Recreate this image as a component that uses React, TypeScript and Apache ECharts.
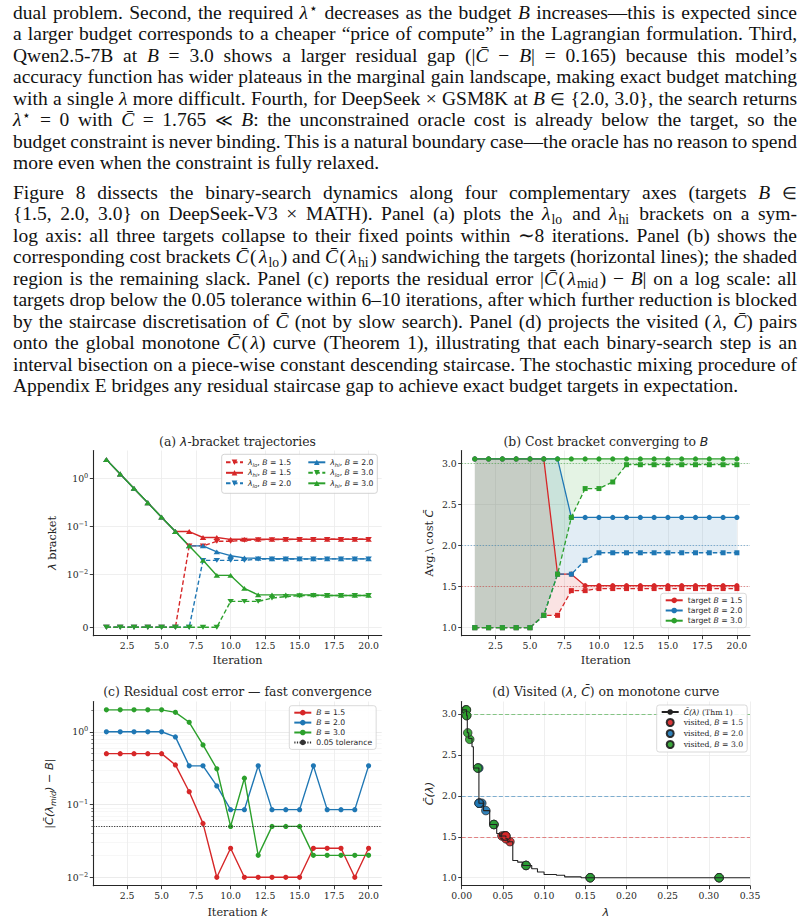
import React, { useEffect, useRef } from 'react';
import * as echarts from 'echarts';

// ---------------- data ----------------
const iterations = [1, 2, 3, 4, 5, 6, 7, 8, 9, 10, 11, 12, 13, 14, 15, 16, 17, 18, 19, 20];
const budgetLabels = ['1.5', '2.0', '3.0'];
const targets = [1.5, 2.0, 3.0];

// (a) lambda brackets
const lamLo15 = [0, 0, 0, 0, 0, 0, 0.0391, 0.0391, 0.0488, 0.0488, 0.0513, 0.0525, 0.0531, 0.0534, 0.0535, 0.0536, 0.0537, 0.0537, 0.0537, 0.0537];
const lamHi15 = [2.5, 1.25, 0.625, 0.3125, 0.156, 0.0781, 0.0781, 0.0586, 0.0586, 0.0537, 0.0537, 0.0537, 0.0537, 0.0537, 0.0537, 0.0537, 0.0537, 0.0537, 0.0537, 0.0537];
const lamLo20 = [0, 0, 0, 0, 0, 0, 0, 0.0195, 0.0195, 0.0195, 0.0195, 0.0208, 0.0208, 0.0208, 0.0208, 0.0208, 0.0209, 0.0209, 0.0209, 0.0209];
const lamHi20 = [2.5, 1.25, 0.625, 0.3125, 0.156, 0.0781, 0.0391, 0.0391, 0.0293, 0.0244, 0.022, 0.0214, 0.0211, 0.021, 0.0209, 0.0209, 0.0209, 0.0209, 0.0209, 0.0209];
const lamLo30 = [0, 0, 0, 0, 0, 0, 0, 0, 0, 0.00488, 0.00488, 0.00488, 0.00549, 0.0058, 0.00595, 0.006, 0.006, 0.006, 0.006, 0.006];
const lamHi30 = [2.5, 1.25, 0.625, 0.3125, 0.156, 0.0781, 0.0391, 0.0195, 0.00977, 0.00977, 0.00732, 0.0061, 0.0061, 0.0061, 0.0061, 0.0061, 0.006, 0.006, 0.006, 0.006];

// (b) cost brackets
const costLo15 = [3.05, 3.05, 3.05, 3.05, 3.05, 3.05, 1.65, 1.65, 1.51, 1.51, 1.51, 1.51, 1.51, 1.51, 1.51, 1.51, 1.51, 1.51, 1.51, 1.51];
const costHi15 = [1.0, 1.0, 1.0, 1.0, 1.0, 1.15, 1.15, 1.45, 1.45, 1.475, 1.475, 1.475, 1.475, 1.475, 1.475, 1.475, 1.475, 1.475, 1.475, 1.475];
const costLo20 = [3.05, 3.05, 3.05, 3.05, 3.05, 3.05, 3.05, 2.34, 2.34, 2.34, 2.34, 2.34, 2.34, 2.34, 2.34, 2.34, 2.34, 2.34, 2.34, 2.34];
const costHi20 = [1.0, 1.0, 1.0, 1.0, 1.0, 1.15, 1.65, 1.65, 1.82, 1.91, 1.91, 1.91, 1.91, 1.91, 1.91, 1.91, 1.91, 1.91, 1.91, 1.91];
const costLo30 = [3.05, 3.05, 3.05, 3.05, 3.05, 3.05, 3.05, 3.05, 3.05, 3.05, 3.05, 3.05, 3.05, 3.05, 3.05, 3.05, 3.05, 3.05, 3.05, 3.05];
const costHi30 = [1.0, 1.0, 1.0, 1.0, 1.0, 1.15, 1.65, 2.34, 2.69, 2.69, 2.77, 2.98, 2.98, 2.98, 2.98, 2.98, 2.98, 2.98, 2.98, 2.98];

// (c) residuals
const res15 = [0.5, 0.5, 0.5, 0.5, 0.5, 0.35, 0.15, 0.055, 0.01, 0.025, 0.01, 0.01, 0.01, 0.01, 0.01, 0.025, 0.025, 0.025, 0.01, 0.025];
const res20 = [1.0, 1.0, 1.0, 1.0, 1.0, 0.85, 0.34, 0.34, 0.18, 0.085, 0.085, 0.34, 0.085, 0.085, 0.085, 0.34, 0.085, 0.085, 0.085, 0.34];
const res30 = [2.0, 2.0, 2.0, 2.0, 2.0, 1.85, 1.35, 0.66, 0.31, 0.05, 0.23, 0.02, 0.05, 0.05, 0.05, 0.02, 0.02, 0.02, 0.02, 0.02];
const tolerance = 0.05;

// (d) monotone curve + visited points
const lamCurve = [0, 0.0059, 0.0068, 0.0085, 0.0125, 0.0142, 0.0209, 0.0265, 0.034, 0.0425, 0.046, 0.0537, 0.056, 0.062, 0.068, 0.074, 0.085, 0.092, 0.1, 0.115, 0.125, 0.145, 0.35];
const costCurve = [3.05, 2.98, 2.77, 2.7, 2.6, 2.34, 1.91, 1.82, 1.65, 1.54, 1.51, 1.475, 1.44, 1.21, 1.19, 1.15, 1.11, 1.07, 1.04, 1.03, 1.01, 1.0, 1.0];
const visLam15 = [0.3125, 0.156, 0.0781, 0.0391, 0.0586, 0.0488, 0.0537, 0.0513, 0.0525, 0.0531, 0.0534, 0.0535, 0.0536];
const visC15 = [1.0, 1.0, 1.15, 1.65, 1.44, 1.51, 1.475, 1.51, 1.51, 1.51, 1.51, 1.51, 1.51];
const visLam20 = [0.3125, 0.156, 0.0781, 0.0391, 0.0195, 0.0293, 0.0244, 0.022, 0.0208, 0.0214, 0.0211, 0.021];
const visC20 = [1.0, 1.0, 1.15, 1.65, 2.34, 1.82, 1.91, 1.91, 2.34, 1.91, 1.91, 1.91];
const visLam30 = [0.3125, 0.156, 0.0781, 0.0391, 0.0195, 0.00977, 0.00488, 0.00732, 0.0061, 0.00549, 0.0058, 0.00595];
const visC30 = [1.0, 1.0, 1.15, 1.65, 2.34, 2.69, 3.05, 2.77, 2.98, 3.05, 3.05, 2.98];

// tick values / labels
const xTickVals = [2.5, 5.0, 7.5, 10.0, 12.5, 15.0, 17.5, 20.0];
const costTickVals = [1.0, 1.5, 2.0, 2.5, 3.0];
const lamTickVals = [0, 0.05, 0.1, 0.15, 0.2, 0.25, 0.3, 0.35];
const aTickVals = [0, 0.01, 0.1, 1];
const aTickLabels = ['0', '10{sup|−2}', '10{sup|−1}', '10{sup|0}'];
const cTickVals = [0.01, 0.1, 1];
const cTickLabels = ['10{sup|−2}', '10{sup|−1}', '10{sup|0}'];
const cMinorVals = [0.02, 0.03, 0.04, 0.05, 0.06, 0.07, 0.08, 0.09, 0.2, 0.3, 0.4, 0.5, 0.6, 0.7, 0.8, 0.9, 2];

// text
const para1 = [
  'dual problem. Second, the required <i>λ</i><span class="sp">⋆</span> decreases as the budget <i>B</i> increases—this is expected since',
  'a larger budget corresponds to a cheaper “price of compute” in the Lagrangian formulation. Third,',
  'Qwen2.5-7B at <i>B</i> = 3.0 shows a larger residual gap (|<i>C̄</i> − <i>B</i>| = 0.165) because this model’s',
  'accuracy function has wider plateaus in the marginal gain landscape, making exact budget matching',
  'with a single <i>λ</i> more difficult. Fourth, for DeepSeek × GSM8K at <i>B</i> <span class="op">∈</span> {2.0, 3.0}, the search returns',
  '<i>λ</i><span class="sp">⋆</span> = 0 with <i>C̄</i> = 1.765 <span class="op">≪</span> <i>B</i>: the unconstrained oracle cost is already below the target, so the',
  'budget constraint is never binding. This is a natural boundary case—the oracle has no reason to spend',
  'more even when the constraint is fully relaxed.',
];
const para2 = [
  'Figure 8 dissects the binary-search dynamics along four complementary axes (targets <i>B</i> <span class="op">∈</span>',
  '{1.5, 2.0, 3.0} on DeepSeek-V3 × MATH). Panel (a) plots the <i>λ</i><span class="sb">lo</span> and <i>λ</i><span class="sb">hi</span> brackets on a sym-',
  'log axis: all three targets collapse to their fixed points within ∼8 iterations. Panel (b) shows the',
  'corresponding cost brackets <i class="cb">C̄</i>(<i class="ml">λ</i><span class="sb">lo</span>) and <i class="cb">C̄</i>(<i class="ml">λ</i><span class="sb">hi</span>) sandwiching the targets (horizontal lines); the shaded',
  'region is the remaining slack. Panel (c) reports the residual error |<i class="cb">C̄</i>(<i class="ml">λ</i><span class="sb">mid</span>) − <i>B</i>| on a log scale: all',
  'targets drop below the 0.05 tolerance within 6–10 iterations, after which further reduction is blocked',
  'by the staircase discretisation of <i>C̄</i> (not by slow search). Panel (d) projects the visited (<i class="ml">λ</i>, <i>C̄</i>) pairs',
  'onto the global monotone <i class="cb">C̄</i>(<i class="ml">λ</i>) curve (Theorem 1), illustrating that each binary-search step is an',
  'interval bisection on a piece-wise constant descending staircase. The stochastic mixing procedure of',
  'Appendix E bridges any residual staircase gap to achieve exact budget targets in expectation.',
];

// ---------------- styling ----------------
const COLORS = ['#d62728', '#1f77b4', '#2ca02c'];
const FILLS = ['rgba(214,39,40,0.13)', 'rgba(31,119,180,0.13)', 'rgba(44,160,44,0.13)'];
const SERIF = "'DejaVu Serif', serif";
const SANS = "'DejaVu Sans', sans-serif";
const INK = '#262626';
const GRIDC = '#ebebeb';
const UP_TRI = 'path://M5,0 L10,8.66 L0,8.66 Z';
const DOWN_TRI = 'path://M0,0 L10,0 L5,8.66 Z';

const LINTHRESH = 0.01;
const LINSCALE_ADJ = 1 / (1 - 1 / 10);
const symlog = (v: number) =>
  Math.abs(v) <= LINTHRESH
    ? (v / LINTHRESH) * LINSCALE_ADJ
    : Math.sign(v) * (LINSCALE_ADJ + Math.log10(Math.abs(v) / LINTHRESH));

const nearestLabel = (vals: number[], labels: string[], v: number) => {
  let best = 0;
  vals.forEach((t, i) => {
    if (Math.abs(t - v) < Math.abs(vals[best] - v)) best = i;
  });
  return labels[best];
};

function mkRich(base: string, size: number) {
  return {
    n: { fontFamily: base, fontSize: size, color: INK, lineHeight: size * 1.3 },
    i: { fontFamily: SANS, fontStyle: 'italic', fontSize: size, color: INK, lineHeight: size * 1.3 },
    sub: { fontFamily: SANS, fontStyle: 'italic', fontSize: size * 0.7, color: INK, lineHeight: size * 0.75, verticalAlign: 'bottom' },
  };
}

const richLabel = (name: string) => {
  let m = name.match(/^λ(lo|hi), B = (.+)$/);
  if (m) return `{i|λ}{sub|${m[1]}}{n|, }{i|B}{n| = ${m[2]}}`;
  m = name.match(/^target B = (.+)$/);
  if (m) return `{n|target }{i|B}{n| = ${m[1]}}`;
  m = name.match(/^visited, B = (.+)$/);
  if (m) return `{n|visited, }{i|B}{n| = ${m[1]}}`;
  m = name.match(/^B = (.+)$/);
  if (m) return `{i|B}{n| = ${m[1]}}`;
  if (name.indexOf('(Thm 1)') >= 0) return `{i|C̄(λ)}{n| (Thm 1)}`;
  return `{n|${name}}`;
};

const axisLineStyle = { show: true, onZero: false, lineStyle: { color: INK, width: 1.1 } };
const tickStyle = (vals: number[], len = 3.5) => ({ show: true, length: len, lineStyle: { color: INK, width: 0.9 }, customValues: vals });
const labelStyle = (vals: number[], formatter: (v: number) => string) => ({
  show: true, customValues: vals, formatter, fontFamily: SERIF, fontSize: 9.3, color: INK, margin: 5,
});
const supRich = {
  sup: { fontFamily: SERIF, fontSize: 6.6, color: INK, lineHeight: 8, verticalAlign: 'top' },
};
const splitStyle = { show: true, lineStyle: { color: GRIDC, width: 0.8 } };
const nameStyle = { fontFamily: SERIF, fontSize: 11.3, color: INK, rich: mkRich(SERIF, 11.3) };

const xIter = (gridIndex: number, name: string) => ({
  type: 'value', gridIndex, min: 0.05, max: 20.95,
  name, nameLocation: 'middle', nameGap: 19, nameTextStyle: nameStyle,
  axisLine: axisLineStyle, axisTick: tickStyle(xTickVals),
  axisLabel: labelStyle(xTickVals, (v: number) => v.toFixed(1)),
  splitLine: splitStyle,
});

function buildOption() {
  const lamLo = [lamLo15, lamLo20, lamLo30];
  const lamHi = [lamHi15, lamHi20, lamHi30];
  const costLo = [costLo15, costLo20, costLo30];
  const costHi = [costHi15, costHi20, costHi30];
  const res = [res15, res20, res30];
  const visLam = [visLam15, visLam20, visLam30];
  const visC = [visC15, visC20, visC30];

  const series: any[] = [];

  // (a)
  const aNames: string[] = [];
  COLORS.forEach((color, k) => {
    const lb = budgetLabels[k];
    const nLo = `λlo, B = ${lb}`;
    const nHi = `λhi, B = ${lb}`;
    aNames.push(nLo, nHi);
    series.push({
      name: nLo, type: 'line', xAxisIndex: 0, yAxisIndex: 0,
      data: iterations.map((it, i) => [it, symlog(lamLo[k][i])]),
      symbol: DOWN_TRI, symbolSize: [6.5, 5.6], symbolKeepAspect: true,
      lineStyle: { color, width: 1.4, type: [4.5, 2.5] }, itemStyle: { color },
    });
    series.push({
      name: nHi, type: 'line', xAxisIndex: 0, yAxisIndex: 0,
      data: iterations.map((it, i) => [it, symlog(lamHi[k][i])]),
      symbol: UP_TRI, symbolSize: [6.5, 5.6], symbolKeepAspect: true,
      lineStyle: { color, width: 1.4 }, itemStyle: { color },
    });
  });

  // (b) shaded slack between the two cost brackets
  COLORS.forEach((color, k) => {
    series.push({
      name: `slack${k}`, type: 'custom', xAxisIndex: 1, yAxisIndex: 1, silent: true, clip: true, z: 1,
      data: [[iterations[0], costHi[k][0]]],
      renderItem: (_params: any, api: any) => {
        const upper = iterations.map((it, i) => api.coord([it, costLo[k][i]]));
        const lower = iterations.map((it, i) => api.coord([it, costHi[k][i]])).reverse();
        return { type: 'polygon', shape: { points: upper.concat(lower) }, style: { fill: FILLS[k], stroke: 'none' } };
      },
    });
  });
  const bNames: string[] = [];
  COLORS.forEach((color, k) => {
    const nm = `target B = ${budgetLabels[k]}`;
    bNames.push(nm);
    series.push({
      name: nm, type: 'line', xAxisIndex: 1, yAxisIndex: 1,
      data: iterations.map((it, i) => [it, costLo[k][i]]),
      symbol: 'circle', symbolSize: 5.2,
      lineStyle: { color, width: 1.3 }, itemStyle: { color },
      markLine: {
        silent: true, symbol: 'none', label: { show: false },
        lineStyle: { color, width: 1, type: [1.2, 1.8], opacity: 0.55 },
        data: [{ yAxis: targets[k] }],
      },
    });
    series.push({
      name: `C(λhi), B = ${budgetLabels[k]}`, type: 'line', xAxisIndex: 1, yAxisIndex: 1,
      data: iterations.map((it, i) => [it, costHi[k][i]]),
      symbol: 'rect', symbolSize: 5,
      lineStyle: { color, width: 1.3, type: [4.5, 2.5] }, itemStyle: { color },
    });
  });

  // (c)
  const cNames: string[] = [];
  COLORS.forEach((color, k) => {
    const nm = `B = ${budgetLabels[k]}`;
    cNames.push(nm);
    series.push({
      name: nm, type: 'line', xAxisIndex: 2, yAxisIndex: 2,
      data: iterations.map((it, i) => [it, Math.log10(res[k][i])]),
      symbol: 'circle', symbolSize: 5.2,
      lineStyle: { color, width: 1.4 }, itemStyle: { color },
    });
  });
  cNames.push('0.05 tolerance');
  series.push({
    name: '0.05 tolerance', type: 'line', xAxisIndex: 2, yAxisIndex: 2, data: [],
    symbol: 'none', lineStyle: { color: '#333', width: 1, type: [1.2, 1.4] }, itemStyle: { color: '#333' },
    markLine: {
      silent: true, symbol: 'none', label: { show: false },
      lineStyle: { color: '#333', width: 1, type: [1.2, 1.4] },
      data: [{ yAxis: Math.log10(tolerance) }],
    },
  });

  // (d)
  const dNames: string[] = ['C̄(λ) (Thm 1)'];
  series.push({
    name: 'C̄(λ) (Thm 1)', type: 'line', xAxisIndex: 3, yAxisIndex: 4, step: 'end',
    data: lamCurve.map((l, i) => [l, costCurve[i]]),
    symbol: 'none', lineStyle: { color: '#222', width: 1.1 }, itemStyle: { color: '#222' },
    markLine: {
      silent: true, symbol: 'none', label: { show: false },
      data: targets.map((t, k) => ({ yAxis: t, lineStyle: { color: COLORS[k], width: 1, type: [4, 2.2], opacity: 0.55 } })),
    },
  });
  COLORS.forEach((color, k) => {
    const nm = `visited, B = ${budgetLabels[k]}`;
    dNames.push(nm);
    series.push({
      name: nm, type: 'scatter', xAxisIndex: 3, yAxisIndex: 4,
      data: visLam[k].map((l, i) => [l, visC[k][i]]),
      symbol: 'circle', symbolSize: 8.5,
      itemStyle: { color, borderColor: '#222', borderWidth: 0.8, opacity: 0.92 },
    });
  });

  const legendCommon = (base: string) => ({
    orient: 'vertical', itemWidth: 17, itemHeight: 7, selectedMode: false,
    textStyle: { fontFamily: base, fontSize: 7.7, color: INK, rich: mkRich(base, 7.7) },
    formatter: richLabel, z: 20,
  });
  const boxed = {
    backgroundColor: 'rgba(255,255,255,0.85)', borderColor: '#cfcfcf', borderWidth: 0.8, borderRadius: 2.5,
  };

  const costY = (gridIndex: number, name: string, nameGap: number) => ({
    type: 'value', gridIndex, min: 0.9025, max: 3.1525,
    name, nameLocation: 'middle', nameGap, nameTextStyle: nameStyle,
    axisLine: axisLineStyle, axisTick: tickStyle(costTickVals),
    axisLabel: labelStyle(costTickVals, (v: number) => v.toFixed(1)),
    splitLine: splitStyle,
  });

  const aTickT = aTickVals.map(symlog);
  const cTickT = cTickVals.map((v) => Math.log10(v));
  const cMinorT = cMinorVals.map((v) => Math.log10(v));

  const titleText = (x: number, y: number, text: string) => ({
    type: 'text', x, y, z: 30, silent: true,
    style: { text, rich: mkRich(SERIF, 12.4), fontFamily: SERIF, fontSize: 12.4, fill: INK, align: 'center', verticalAlign: 'middle' },
  });

  return {
    animation: false,
    backgroundColor: '#ffffff',
    grid: [
      { left: 93.3, top: 30.5, width: 288.4, height: 185.2 },
      { left: 461.7, top: 30.5, width: 288.3, height: 185.2 },
      { left: 93.3, top: 281.5, width: 288.4, height: 184.2 },
      { left: 461.7, top: 281.5, width: 288.3, height: 184.2 },
    ],
    xAxis: [
      xIter(0, 'Iteration'),
      xIter(1, 'Iteration'),
      xIter(2, '{n|Iteration }{i|k}'),
      {
        type: 'value', gridIndex: 3, min: 0, max: 0.35,
        name: '{i|λ}', nameLocation: 'middle', nameGap: 19, nameTextStyle: nameStyle,
        axisLine: axisLineStyle, axisTick: tickStyle(lamTickVals),
        axisLabel: labelStyle(lamTickVals, (v: number) => v.toFixed(2)),
        splitLine: splitStyle,
      },
    ],
    yAxis: [
      {
        type: 'value', gridIndex: 0, min: -0.176, max: 3.7,
        name: '{i|λ}{n| bracket}', nameLocation: 'middle', nameGap: 33, nameTextStyle: nameStyle,
        axisLine: axisLineStyle, axisTick: tickStyle(aTickT),
        axisLabel: { ...labelStyle(aTickT, (v: number) => nearestLabel(aTickT, aTickLabels, v)), rich: supRich, lineHeight: 12 },
        splitLine: splitStyle,
      },
      costY(1, '{n|Avg.\\ cost }{i|C̄}', 25),
      {
        type: 'value', gridIndex: 2, min: -2.116, max: 0.416, position: 'left',
        name: '{i||C̄(λ}{sub|mid}{i|) − B|}', nameLocation: 'middle', nameGap: 36, nameTextStyle: nameStyle,
        axisLine: axisLineStyle, axisTick: tickStyle(cTickT),
        axisLabel: { ...labelStyle(cTickT, (v: number) => nearestLabel(cTickT, cTickLabels, v)), rich: supRich, lineHeight: 12 },
        splitLine: { show: true, lineStyle: { color: '#e6e6e6', width: 0.8 } },
        z: 3,
      },
      {
        type: 'value', gridIndex: 2, min: -2.116, max: 0.416, position: 'left',
        axisLine: { show: false, onZero: false },
        axisTick: { show: true, length: 2, lineStyle: { color: INK, width: 0.6 }, customValues: cMinorT },
        axisLabel: { show: false, customValues: cMinorT },
        splitLine: { show: true, lineStyle: { color: '#f2f2f2', width: 0.6 } },
      },
      costY(3, '{i|C̄(λ)}', 25),
    ],
    legend: [
      { ...legendCommon(SANS), data: aNames.slice(0, 3), left: 225, top: 38.3, padding: 0, itemGap: 1.5 },
      { ...legendCommon(SANS), data: aNames.slice(3, 6), left: 307.3, top: 38.3, padding: 0, itemGap: 1.5 },
      { ...legendCommon(SANS), ...boxed, data: bNames, left: 660.7, top: 173.3, padding: [3, 4, 3, 4], itemGap: 2.2 },
      { ...legendCommon(SANS), ...boxed, data: cNames, left: 289.3, top: 285.7, padding: [3, 4, 3, 4], itemGap: 1.9 },
      { ...legendCommon(SERIF), ...boxed, data: dNames, left: 656.7, top: 285, padding: [3, 4, 3, 4], itemGap: 2.0 },
    ],
    graphic: [
      {
        type: 'rect', z: 3, silent: true,
        shape: { x: 221.7, y: 34.3, width: 155.6, height: 39, r: 2.5 },
        style: { fill: 'rgba(255,255,255,0.85)', stroke: '#c8c8c8', lineWidth: 0.8 },
      },
      titleText(237.5, 21, '{n|(a) }{i|λ}{n|-bracket trajectories}'),
      titleText(605.9, 21, '{n|(b) Cost bracket converging to }{i|B}'),
      titleText(237.5, 271, '{n|(c) Residual cost error — fast convergence}'),
      titleText(605.9, 271, '{n|(d) Visited (}{i|λ}{n|, }{i|C̄}{n|) on monotone curve}'),
    ],
    series,
  };
}

const lineStyle = (baseline: number, last: boolean): React.CSSProperties => ({
  position: 'absolute',
  left: 13,
  width: 784,
  top: baseline - 17.3,
  height: 21.5,
  fontFamily: "'Liberation Serif', 'Times New Roman', serif",
  fontSize: 19.5,
  lineHeight: '21.5px',
  color: '#111',
  textAlign: last ? 'left' : 'justify',
  textAlignLast: last ? 'left' : 'justify',
  wordSpacing: last ? 0 : -3,
  whiteSpace: 'normal',
});

export default function App() {
  const ref = useRef<HTMLDivElement>(null);
  useEffect(() => {
    if (!ref.current) return;
    const chart = echarts.init(ref.current, null, { renderer: 'svg' });
    chart.setOption(buildOption() as any);
    return () => chart.dispose();
  }, []);
  return (
    <div style={{ position: 'absolute', left: 0, top: 0, width: 808, height: 921, background: '#fff', overflow: 'hidden' }}>
      <style>{`.sp{font-size:0.7em;vertical-align:0.45em;line-height:0;margin-left:1px}.sb{font-size:0.7em;vertical-align:-0.25em;line-height:0;margin:0 1.5px 0 1px}.op{font-size:0.85em}.cb{margin-right:1.5px}.ml{margin-left:2.5px}`}</style>
      {para1.map((html, i) => (
        <div key={'p1' + i} style={lineStyle(19 + 21.5 * i, i === para1.length - 1)} dangerouslySetInnerHTML={{ __html: html }} />
      ))}
      {para2.map((html, i) => (
        <div key={'p2' + i} style={lineStyle(199 + 21.5 * i, i === para2.length - 1)} dangerouslySetInnerHTML={{ __html: html }} />
      ))}
      <div ref={ref} style={{ position: 'absolute', left: 0, top: 420, width: 808, height: 501 }} />
    </div>
  );
}
